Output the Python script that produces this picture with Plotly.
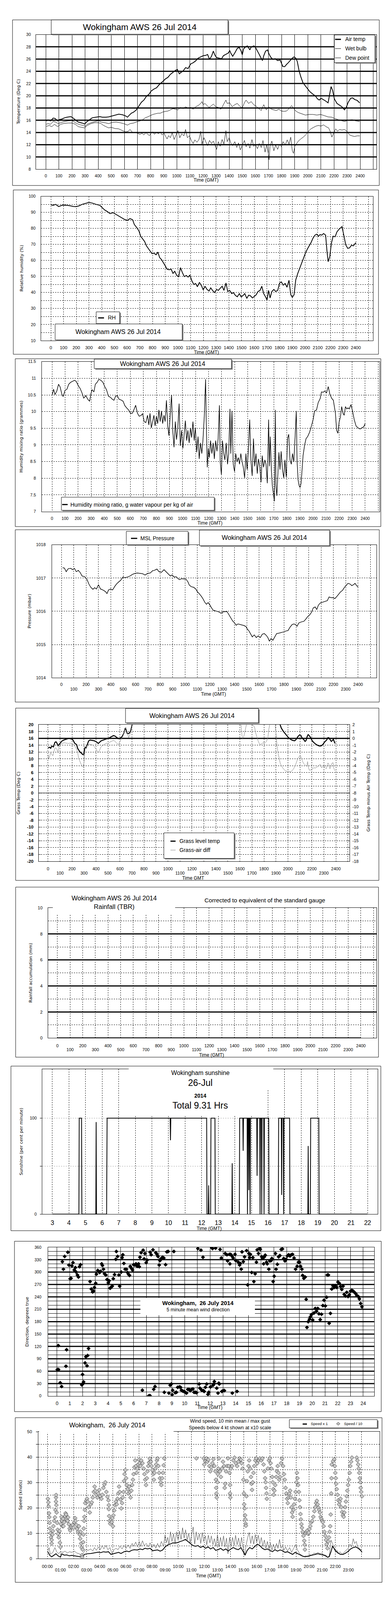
import plotly.graph_objects as go

# The reference is laid out on a 1000 x 5000 canvas; the visible photograph of the page is
# about 1000 x 4096, so the layout is mapped proportionally onto that visible area.
REF_W, REF_H = 1000, 5000
FW, FH = 984, 4072
SY = 4096 / REF_H
FS = 0.92
FONT = "Liberation Sans, Arial, sans-serif"
FONT2 = "DejaVu Sans, Verdana, sans-serif"

# ---------------- data (time in HHMM-style units 0..2400, or hours) ----------------
AIR_TEMP = [(4,15.9),(17,16.05),(37,15.9),(56,16.35),(71,16.3),(90,15.9),(104,16.1),(123,16.2),(143,16.4),(162,16.5),
 (191,16.6),(206,16.4),(229,16.0),(248,15.7),(277,15.55),(297,15.4),(316,15.8),(329,16.0),(354,16.4),(383,16.5),
 (412,16.6),(431,16.5),(460,16.5),(480,16.55),(499,16.65),(528,16.85),(557,17.0),(585,16.9),(610,16.7),(624,16.5),
 (634,16.75),(653,17.15),(672,17.35),(691,17.7),(707,18.2),(730,18.95),(749,19.3),(768,19.9),(788,20.25),(803,20.75),
 (826,21.1),(845,21.3),(865,21.8),(884,22.15),(899,22.45),(913,22.75),(932,23.0),(951,23.5),(971,23.85),(990,24.15),
 (1005,24.3),(1019,23.6),(1034,23.85),(1048,24.05),(1067,24.6),(1086,24.45),(1106,25.2),(1125,25.4),(1144,25.7),(1163,26.15),
 (1183,26.35),(1202,26.55),(1221,26.6),(1235,26.75),(1250,25.95),(1265,26.45),(1279,27.3),(1292,26.6),(1304,26.25),(1323,26.15),
 (1342,26.05),(1356,26.55),(1375,26.8),(1394,27.0),(1404,27.4),(1414,26.9),(1427,26.45),(1443,27.0),(1462,27.75),(1477,27.9),
 (1491,27.3),(1500,26.7),(1510,27.65),(1523,27.95),(1539,28.15),(1548,27.85),(1558,27.5),(1568,27.95),(1587,28.15),(1597,28.05),
 (1612,27.5),(1626,26.9),(1639,26.35),(1654,25.75),(1664,26.55),(1678,27.3),(1693,27.5),(1703,26.9),(1716,26.35),(1732,25.95),
 (1751,26.05),(1770,25.75),(1789,25.85),(1809,24.8),(1824,24.75),(1837,25.1),(1851,25.4),(1866,25.75),(1882,26.15),(1895,26.35),
 (1909,26.15),(1920,25.6),(1934,24.05),(1947,23.1),(1963,22.15),(1982,21.6),(1997,21.2),(2017,20.65),(2040,20.25),(2059,19.95),
 (2074,19.5),(2088,19.3),(2101,19.6),(2117,19.4),(2136,19.15),(2155,18.85),(2165,20.1),(2178,21.5),(2190,20.85),(2203,19.5),
 (2223,18.75),(2242,18.45),(2261,18.2),(2280,17.7),(2294,18.1),(2309,18.95),(2328,19.6),(2344,19.65),(2357,19.4),(2377,19.25),(2396,18.85)]

WET_BULB = [(4,15.35),(17,15.45),(37,15.35),(56,15.8),(75,15.7),(94,15.45),(114,15.6),(143,15.8),(171,15.9),(200,15.95),
 (219,15.7),(239,15.45),(264,15.25),(287,15.15),(302,15.0),(316,15.35),(345,15.6),(374,15.8),(403,15.95),(422,15.7),
 (451,15.6),(480,15.45),(508,15.65),(537,15.7),(566,15.6),(595,15.45),(624,15.2),(643,15.45),(672,15.55),(701,15.8),
 (720,15.9),(740,16.1),(759,16.4),(778,16.55),(797,16.75),(817,16.95),(836,17.05),(855,17.15),(874,17.15),(894,17.35),
 (913,17.45),(932,17.5),(951,17.7),(971,17.9),(990,17.8),(1009,17.7),(1028,18.1),(1048,17.9),(1067,18.2),(1086,18.0),
 (1106,18.1),(1125,17.8),(1144,18.2),(1163,18.4),(1183,18.75),(1192,19.05),(1202,18.55),(1215,18.75),(1231,18.4),(1246,18.1),
 (1260,18.3),(1279,18.65),(1298,18.2),(1317,18.1),(1337,17.8),(1356,18.55),(1375,19.3),(1385,18.75),(1404,18.85),(1423,18.2),
 (1443,18.55),(1462,18.75),(1481,18.3),(1500,18.0),(1516,18.85),(1529,19.3),(1548,18.75),(1568,19.05),(1587,18.55),(1606,18.3),
 (1626,17.9),(1645,17.6),(1664,18.55),(1683,17.7),(1703,18.2),(1722,17.8),(1741,17.7),(1760,17.6),(1780,17.8),(1799,17.5),
 (1818,17.45),(1837,17.5),(1857,17.9),(1876,18.4),(1891,18.0),(1909,17.5),(1928,17.25),(1953,17.05),(1982,16.85),(2011,16.95),
 (2040,16.95),(2069,16.85),(2098,16.95),(2127,16.75),(2155,16.55),(2184,16.5),(2203,16.3),(2232,16.1),(2261,15.9),(2280,15.8),
 (2309,16.0),(2338,16.1),(2367,15.9),(2396,15.8)]

DEW_POINT = [(4,15.0),(27,15.15),(46,14.95),(66,15.35),(90,14.95),(114,15.35),(143,15.5),(171,15.55),(200,15.55),(225,15.35),
 (248,14.95),(272,14.85),(297,14.75),(316,15.15),(345,15.45),(374,15.6),(403,15.6),(422,15.45),(441,15.15),(460,14.95),
 (480,14.75),(499,14.85),(528,14.65),(557,14.6),(585,14.3),(610,14.1),(630,14.2),(643,14.5),(662,14.0),(691,14.0),
 (707,13.8),(720,13.7),(734,13.9),(749,13.6),(765,14.0),(778,13.7),(792,13.5),(803,13.9),(817,14.1),(830,13.7),
 (845,14.0),(861,13.8),(874,14.1),(888,13.6),(903,13.9),(913,13.45),(926,12.95),(938,13.5),(951,13.15),(965,14.0),
 (980,12.85),(994,13.6),(1009,14.3),(1023,13.15),(1038,13.8),(1054,13.45),(1067,14.5),(1081,13.15),(1096,13.45),(1111,12.7),
 (1125,12.2),(1138,12.8),(1154,12.4),(1169,12.85),(1183,14.2),(1192,12.1),(1208,13.15),(1221,12.5),(1235,11.85),(1250,12.7),
 (1265,12.2),(1279,12.6),(1292,11.95),(1304,11.25),(1317,12.5),(1331,11.75),(1346,12.85),(1360,12.1),(1375,14.3),(1385,12.5),
 (1400,13.15),(1414,12.2),(1427,11.85),(1443,12.5),(1458,11.55),(1471,12.3),(1485,11.15),(1500,11.9),(1516,12.7),(1529,11.65),
 (1545,12.2),(1558,11.45),(1574,12.85),(1587,11.75),(1601,12.0),(1616,11.35),(1629,12.2),(1645,11.55),(1658,12.7),(1674,10.8),
 (1687,12.0),(1699,10.6),(1705,9.55),(1712,11.75),(1726,12.6),(1741,11.0),(1755,11.95),(1770,11.25),(1785,12.1),(1799,11.65),
 (1812,12.5),(1828,11.95),(1843,12.8),(1857,12.1),(1870,13.25),(1882,11.0),(1891,10.6),(1901,11.75),(1914,12.2),(1928,12.6),
 (1947,12.95),(1966,13.25),(1986,13.65),(2005,14.2),(2024,14.6),(2044,14.85),(2063,15.05),(2082,15.15),(2101,15.05),(2121,15.25),
 (2140,14.95),(2159,14.75),(2171,14.2),(2184,13.25),(2198,13.9),(2213,14.6),(2228,14.2),(2242,14.5),(2261,14.4),(2280,14.5),
 (2299,14.2),(2319,13.6),(2338,13.45),(2357,13.35),(2377,13.45),(2396,13.45)]

RH = [(0,94.7),(18,94.4),(38,95.0),(62,93.6),(87,94.4),(117,94.5),(147,94.2),(177,93.7),(197,93.6),(220,94.0),
 (246,95.0),(276,95.7),(300,96.2),(326,95.8),(355,95.0),(385,94.4),(405,93.0),(425,91.4),(445,90.5),(465,89.2),
 (490,89.8),(514,88.7),(538,87.4),(564,86.4),(584,85.4),(603,85.1),(623,86.1),(643,85.4),(657,82.4),(677,80.4),
 (693,78.4),(707,75.1),(723,73.5),(738,71.8),(752,69.1),(768,67.2),(782,65.8),(796,64.2),(812,64.5),(828,63.5),
 (842,65.2),(856,61.8),(871,60.5),(887,58.5),(901,56.5),(915,54.5),(931,54.2),(947,54.5),(961,51.9),(975,53.2),
 (991,50.6),(1006,49.9),(1020,55.5),(1034,52.6),(1050,49.9),(1066,50.6),(1080,49.6),(1094,50.9),(1110,47.2),(1126,44.9),
 (1139,45.6),(1153,43.6),(1169,46.3),(1185,44.3),(1199,41.6),(1213,43.9),(1229,41.9),(1245,40.9),(1258,42.9),(1272,41.3),
 (1288,39.9),(1304,41.9),(1318,41.3),(1332,42.6),(1348,43.9),(1362,41.3),(1378,45.9),(1392,40.6),(1407,41.3),(1423,39.3),
 (1437,39.9),(1451,38.3),(1467,37.3),(1483,39.3),(1497,37.3),(1511,38.0),(1526,39.3),(1542,36.3),(1556,38.3),(1570,38.0),
 (1586,36.6),(1602,37.6),(1616,38.6),(1630,40.6),(1646,41.3),(1660,43.9),(1675,39.3),(1689,37.3),(1701,35.3),(1713,41.3),
 (1725,36.6),(1739,40.6),(1755,41.9),(1769,40.6),(1785,41.3),(1800,45.9),(1814,46.6),(1828,44.6),(1844,45.6),(1858,43.3),
 (1874,47.6),(1888,38.6),(1900,37.0),(1914,38.6),(1927,47.9),(1943,51.9),(1959,55.2),(1973,58.2),(1987,61.2),(2003,64.5),
 (2019,67.2),(2033,69.1),(2047,71.1),(2062,73.8),(2078,75.8),(2092,76.4),(2106,75.1),(2118,76.1),(2132,75.8),(2146,76.8),
 (2162,75.8),(2172,66.5),(2182,59.2),(2195,62.5),(2207,70.5),(2221,75.1),(2237,74.8),(2251,77.8),(2267,79.4),(2281,80.4),
 (2291,81.1),(2305,75.8),(2320,69.8),(2336,67.5),(2350,67.8),(2366,69.5),(2380,69.1),(2400,71.1)]

MIXING = [(0,10.48),(12,10.67),(23,10.51),(37,10.62),(50,10.82),(62,10.74),(75,10.53),(85,10.45),(100,10.64),(114,10.67),
 (128,10.82),(143,10.88),(158,10.91),(172,10.94),(185,10.91),(201,10.78),(216,10.69),(230,10.56),(243,10.40),(259,10.48),
 (274,10.37),(288,10.31),(298,10.53),(307,10.66),(321,10.59),(332,10.82),(346,10.88),(359,10.97),(375,10.94),(390,10.88),
 (404,10.75),(417,10.66),(433,10.46),(448,10.43),(462,10.37),(475,10.34),(487,10.46),(500,10.48),(514,10.37),(529,10.35),
 (545,10.31),(558,10.18),(572,10.11),(587,10.05),(603,9.94),(616,9.95),(630,10.08),(641,10.19),(655,9.95),(668,9.86),
 (684,9.89),(694,9.94),(707,9.70),(719,9.67),(732,9.89),(742,9.60),(751,9.95),(761,9.51),(771,9.70),(781,9.89),
 (790,9.57),(800,9.86),(810,9.64),(819,10.05),(829,9.70),(839,10.02),(848,9.64),(858,9.89),(867,9.70),(877,10.34),
 (887,9.57),(896,9.28),(906,9.89),(916,10.50),(925,9.44),(935,8.93),(945,9.70),(954,9.16),(964,9.51),(974,10.24),
 (983,8.97),(993,9.44),(1003,8.90),(1012,9.32),(1022,9.73),(1032,9.13),(1041,9.44),(1051,9.06),(1061,9.51),(1070,9.22),
 (1080,9.70),(1090,9.13),(1099,9.51),(1109,8.78),(1119,9.25),(1128,8.58),(1138,9.06),(1148,8.74),(1157,9.16),(1167,9.86),
 (1177,10.97),(1182,9.70),(1190,8.33),(1198,8.90),(1206,8.62),(1215,9.13),(1225,8.74),(1235,9.06),(1244,8.58),(1254,9.13),
 (1264,8.81),(1273,9.19),(1283,10.19),(1289,8.49),(1298,8.11),(1306,9.13),(1316,8.74),(1325,8.55),(1335,9.06),(1345,8.42),
 (1354,8.74),(1364,10.08),(1370,8.74),(1379,10.02),(1389,8.42),(1399,8.20),(1408,8.74),(1418,8.49),(1428,8.62),(1437,8.42),
 (1447,8.74),(1457,8.49),(1466,8.33),(1476,8.01),(1486,8.74),(1495,8.26),(1505,8.87),(1515,9.76),(1524,8.55),(1534,8.07),
 (1544,9.19),(1553,8.36),(1563,8.74),(1573,8.14),(1582,8.58),(1592,8.36),(1602,7.88),(1611,8.68),(1621,8.33),(1631,8.55),
 (1640,8.42),(1650,7.85),(1660,9.76),(1666,8.36),(1673,9.25),(1681,8.26),(1689,7.75),(1697,7.53),(1704,7.31),(1712,10.05),
 (1716,7.79),(1723,7.47),(1731,8.11),(1739,8.78),(1747,8.26),(1756,8.81),(1766,8.26),(1776,8.01),(1785,8.55),(1795,8.04),
 (1805,9.19),(1814,9.32),(1824,8.55),(1834,8.42),(1843,8.74),(1853,8.49),(1863,9.25),(1872,10.02),(1878,8.52),(1886,7.95),
 (1893,7.79),(1901,7.72),(1909,7.85),(1917,8.26),(1924,8.68),(1936,9.00),(1947,9.19),(1959,9.25),(1974,9.38),(1988,9.57),
 (2001,9.76),(2013,10.02),(2027,10.05),(2040,10.27),(2056,10.40),(2065,10.59),(2079,10.58),(2090,10.62),(2104,10.56),(2117,10.75),
 (2129,10.53),(2143,10.40),(2156,10.34),(2172,9.95),(2181,9.44),(2191,9.35),(2201,9.70),(2210,9.83),(2220,10.15),(2230,9.95),
 (2239,9.89),(2249,10.15),(2259,10.08),(2268,10.11),(2278,10.08),(2291,10.21),(2303,10.02),(2316,9.76),(2330,9.57),(2345,9.51),
 (2361,9.48),(2374,9.51),(2388,9.54),(2400,9.64)]

PRESSURE = [(10,1017.31),(24,1017.30),(39,1017.19),(55,1017.28),(75,1017.29),(92,1017.25),(106,1017.29),(120,1017.19),(137,1017.23),(153,1017.16),
 (167,1017.06),(188,1017.04),(208,1016.95),(222,1016.82),(238,1016.72),(255,1016.66),(269,1016.71),(283,1016.67),(300,1016.80),(316,1016.67),
 (336,1016.64),(357,1016.59),(369,1016.53),(381,1016.64),(398,1016.67),(414,1016.64),(432,1016.75),(446,1016.82),(463,1016.88),(479,1016.93),
 (498,1017.03),(514,1017.01),(534,1017.03),(555,1017.06),(575,1017.11),(596,1017.14),(616,1017.15),(636,1017.14),(657,1017.13),(677,1017.09),
 (697,1017.14),(718,1017.15),(738,1017.22),(752,1017.23),(773,1017.27),(789,1017.19),(809,1017.17),(830,1017.25),(846,1017.19),(865,1017.11),
 (881,1017.06),(895,1017.09),(912,1017.03),(928,1017.04),(944,1016.98),(956,1016.95),(973,1016.98),(993,1016.97),(1009,1016.96),(1024,1016.88),
 (1034,1016.79),(1050,1016.74),(1070,1016.72),(1087,1016.67),(1099,1016.59),(1115,1016.53),(1132,1016.45),(1146,1016.37),(1160,1016.27),(1173,1016.21),
 (1187,1016.26),(1201,1016.19),(1213,1016.11),(1228,1016.03),(1242,1016.02),(1258,1016.00),(1274,1015.98),(1291,1015.94),(1307,1015.98),(1324,1015.99),
 (1340,1015.99),(1356,1015.89),(1370,1015.79),(1385,1015.71),(1401,1015.65),(1413,1015.58),(1429,1015.62),(1446,1015.60),(1462,1015.58),(1478,1015.57),
 (1493,1015.54),(1503,1015.47),(1517,1015.41),(1532,1015.31),(1544,1015.23),(1560,1015.29),(1576,1015.21),(1592,1015.26),(1609,1015.21),(1625,1015.31),
 (1641,1015.33),(1656,1015.28),(1670,1015.21),(1682,1015.10),(1696,1015.18),(1711,1015.13),(1727,1015.23),(1741,1015.33),(1758,1015.34),(1778,1015.36),
 (1798,1015.38),(1819,1015.41),(1833,1015.42),(1849,1015.52),(1866,1015.60),(1880,1015.62),(1894,1015.60),(1906,1015.55),(1921,1015.65),(1941,1015.68),
 (1962,1015.70),(1976,1015.76),(1992,1015.84),(2008,1015.89),(2023,1015.97),(2037,1016.10),(2053,1016.13),(2066,1016.05),(2078,1016.18),(2094,1016.25),
 (2111,1016.27),(2131,1016.29),(2151,1016.32),(2165,1016.43),(2180,1016.41),(2196,1016.41),(2212,1016.38),(2229,1016.45),(2241,1016.50),(2257,1016.58),
 (2274,1016.63),(2290,1016.72),(2302,1016.77),(2318,1016.84),(2335,1016.82),(2349,1016.77),(2363,1016.80),(2375,1016.84),(2388,1016.77),(2400,1016.73)]

# grass temperature (left axis, deg C); values above 20 run off the top of the chart
GRASS_TEMP = [(0,13.2),(14,13.4),(22,13.1),(31,13.75),(45,13.5),(57,14.8),(66,15.0),(74,14.6),(83,13.85),(91,14.15),
 (100,14.6),(117,15.25),(134,15.55),(152,15.8),(169,15.95),(186,15.9),(203,15.7),(212,15.25),(221,14.6),(238,14.15),
 (247,13.05),(264,12.1),(281,11.5),(290,11.25),(298,11.35),(303,12.75),(310,13.4),(317,13.2),(324,13.85),(338,15.25),
 (350,15.5),(367,15.4),(384,15.3),(402,15.0),(419,14.5),(428,14.8),(441,15.25),(453,15.4),(471,15.6),(488,15.8),
 (500,16.0),(514,16.2),(531,16.55),(545,16.8),(557,16.7),(574,16.2),(586,15.9),(600,16.0),(617,16.5),(631,17.45),
 (643,19.0),(652,18.4),(660,17.45),(672,17.4),(683,17.75),(690,18.4),(697,19.6),(703,20.25),(760,24),(1000,30),
 (1400,32),(1800,28),(1920,21.5),(1936,20.0),(1945,19.0),(1962,18.05),(1979,17.3),(1997,16.5),(2005,16.2),(2022,15.7),
 (2040,15.4),(2057,15.3),(2069,15.7),(2083,16.5),(2097,17.0),(2109,16.8),(2117,16.2),(2134,15.55),(2143,15.1),(2152,15.4),
 (2160,16.5),(2169,17.1),(2178,16.8),(2190,16.2),(2203,15.25),(2221,14.6),(2238,14.15),(2255,13.85),(2269,13.75),(2281,13.85),
 (2293,14.3),(2307,14.95),(2324,15.55),(2333,16.2),(2341,16.2),(2350,15.7),(2362,15.1),(2371,15.4),(2379,15.7),(2386,15.1),(2393,14.5)]

# grass minus air temperature (right axis, deg C); values above 2 run off the top
GRASS_DIFF = [(0,-2.4),(7,-2.95),(14,-2.55),(22,-2.1),(31,-2.35),(40,-2.55),(48,-1.95),(57,-1.45),(66,-1.4),(74,-1.6),
 (83,-2.15),(91,-1.15),(100,-0.9),(117,-0.75),(134,-0.65),(152,-0.7),(169,-0.75),(186,-0.7),(203,-0.85),(212,-0.9),
 (221,-1.1),(238,-1.55),(247,-2.1),(255,-2.9),(272,-3.65),(286,-4.1),(293,-4.2),(300,-3.5),(303,-2.7),(310,-1.45),
 (321,-1.25),(333,-0.9),(345,-0.85),(359,-0.9),(376,-1.0),(393,-1.4),(410,-1.8),(419,-2.1),(428,-1.8),(441,-1.25),
 (453,-1.1),(471,-0.85),(488,-0.7),(500,-0.8),(514,-0.55),(531,-0.4),(545,-0.3),(557,-0.4),(574,-0.75),(586,-0.9),
 (600,-0.45),(614,-0.05),(626,0.4),(638,1.2),(648,1.65),(655,1.2),(666,0.4),(672,0.1),(683,0.55),(695,1.35),
 (703,1.95),(760,4),(1100,6),(1500,4),(1595,2.6),(1609,2.0),(1617,0.4),(1622,0.0),(1631,0.2),(1638,0.7),
 (1648,1.65),(1655,2.1),(1680,2.8),(1700,2.0),(1707,1.9),(1717,1.8),(1724,1.5),(1729,0.9),(1741,0.25),(1752,-0.4),
 (1764,-0.85),(1772,-0.9),(1786,-0.75),(1798,-0.6),(1810,-0.65),(1821,-0.45),(1833,0.1),(1841,1.35),(1850,2.1),(1870,3.0),
 (1893,2.1),(1902,0.4),(1910,-1.15),(1919,-2.25),(1928,-3.05),(1936,-3.65),(1948,-4.1),(1962,-4.45),(1979,-4.75),(1997,-4.9),
 (2010,-4.85),(2022,-4.9),(2034,-4.75),(2048,-4.45),(2062,-3.95),(2074,-3.35),(2086,-2.8),(2100,-2.65),(2109,-2.7),(2121,-3.35),
 (2134,-3.75),(2147,-3.95),(2157,-4.1),(2164,-3.4),(2169,-4.1),(2178,-4.65),(2190,-4.65),(2203,-4.45),(2217,-4.3),(2229,-4.35),
 (2241,-4.2),(2255,-4.05),(2269,-3.8),(2279,-4.3),(2290,-4.2),(2303,-3.95),(2310,-4.3),(2321,-4.45),(2328,-3.95),(2334,-3.6),
 (2341,-3.8),(2350,-4.45),(2359,-4.1),(2367,-3.65),(2376,-3.55),(2384,-4.45),(2393,-4.75)]

RAIN_TIME = [0, 2400]
RAIN_MM = [0, 0]

SUNSHINE = [(3.0,0),(4.60,0),(4.62,100),(4.76,100),(4.78,0),(5.62,0),(5.64,96),(5.66,0),(6.27,0),(6.30,100),
 (10.10,100),(10.12,77),(10.14,100),(12.30,100),(12.32,0),(12.40,0),(12.42,30),(12.44,0),(12.54,0),(12.56,100),
 (12.80,100),(12.82,0),(13.82,0),(13.84,53),(13.86,0),(14.27,0),(14.29,100),(14.48,100),(14.50,66),(14.52,100),
 (14.74,100),(14.76,0),(14.78,100),(14.82,100),(14.84,25),(14.86,100),(14.90,100),(14.92,0),(14.94,100),(15.32,100),
 (15.34,40),(15.36,100),(15.50,100),(15.52,0),(15.54,100),(15.60,100),(15.62,0),(15.64,100),(15.74,100),(15.76,0),
 (15.78,100),(16.04,100),(16.06,0),(16.62,0),(16.64,100),(16.80,100),(16.82,20),(16.84,100),(16.92,100),(16.94,0),
 (16.96,100),(17.30,100),(17.32,0),(18.40,0),(18.42,71),(18.44,0),(18.55,0),(18.57,100),(19.06,100),(19.08,0),(22.0,0)]

WIND_DIR = [(0.02,64),(0.1,122),(0.12,64),(0.25,32),(0.36,23),(0.42,325),(0.5,307),(0.6,338),(0.7,72),(0.75,112),
 (0.85,348),(0.93,317),(1.03,284),(1.1,285),(1.17,315),(1.25,323),(1.35,305),(1.44,311),(1.5,300),(1.6,293),
 (1.68,288),(1.76,313),(1.84,318),(1.94,27),(2.0,52),(2.04,30),(2.08,34),(2.2,80),(2.26,95),(2.35,73),
 (2.4,98),(2.47,115),(2.59,277),(2.69,259),(2.79,252),(2.87,254),(2.93,263),(3.03,273),(3.09,295),(3.19,304),
 (3.26,302),(3.34,299),(3.42,302),(3.5,320),(3.56,316),(3.64,307),(3.72,296),(3.82,293),(3.92,282),(4.02,274),
 (4.08,279),(4.16,261),(4.23,263),(4.33,266),(4.41,284),(4.51,294),(4.61,331),(4.65,350),(4.75,338),(4.85,293),
 (4.91,266),(5.03,300),(5.1,335),(5.16,342),(5.24,321),(5.34,307),(5.44,307),(5.53,299),(5.6,295),(5.68,292),
 (5.74,314),(5.84,309),(5.92,305),(6.0,318),(6.09,317),(6.19,320),(6.29,314),(6.39,320),(6.45,313),(6.5,336),
 (6.59,347),(6.69,14),(6.75,353),(6.83,332),(6.89,345),(6.99,323),(7.06,329),(7.18,0),(7.28,1),(7.3,348),
 (7.38,342),(7.52,354),(7.58,16),(7.68,23),(7.74,347),(7.81,344),(7.91,338),(8.01,317),(8.07,328),(8.17,333),
 (8.27,336),(8.37,334),(8.41,9),(8.51,318),(8.61,349),(8.71,350),(8.77,7),(8.87,26),(8.96,29),(9.02,3),
 (9.06,14),(9.16,350),(9.26,8),(9.36,9),(9.46,21),(9.6,22),(9.68,21),(9.75,14),(9.85,12),(9.95,11),
 (10.05,9),(10.15,7),(10.25,16),(10.35,16),(10.45,13),(10.55,16),(10.65,17),(10.74,9),(10.84,9),(10.94,8),
 (11.04,357),(11.14,29),(11.2,19),(11.28,353),(11.34,14),(11.44,336),(11.48,13),(11.53,11),(11.63,21),(11.73,29),
 (11.83,4),(11.89,9),(12.03,22),(12.13,359),(12.19,357),(12.23,26),(12.29,29),(12.33,35),(12.43,358),(12.52,19),
 (12.62,7),(12.68,31),(12.72,29),(12.78,355),(12.88,334),(12.92,11),(13.02,13),(13.12,13),(13.18,345),(13.32,342),
 (13.37,327),(13.51,343),(13.55,320),(13.61,343),(13.71,339),(13.74,7),(13.81,334),(13.95,343),(14.01,328),(14.11,11),
 (14.21,324),(14.31,317),(14.36,321),(14.44,307),(14.5,349),(14.6,325),(14.7,337),(14.86,352),(14.94,269),(15.04,345),
 (15.1,335),(15.16,343),(15.26,299),(15.35,335),(15.43,277),(15.53,296),(15.63,324),(15.69,354),(15.79,345),(15.89,358),
 (15.93,355),(16.05,337),(16.11,333),(16.19,320),(16.25,337),(16.32,341),(16.42,324),(16.48,320),(16.6,307),(16.68,327),
 (16.78,328),(16.84,333),(16.94,277),(17.02,290),(17.12,345),(17.17,307),(17.27,319),(17.37,337),(17.47,340),(17.57,355),
 (17.67,356),(17.77,333),(17.87,327),(17.96,331),(18.06,339),(18.16,342),(18.26,339),(18.36,342),(18.46,343),(18.58,334),
 (18.7,307),(18.82,314),(18.92,324),(19.01,324),(19.09,314),(19.19,307),(19.25,292),(19.35,285),(19.45,288),(19.53,234),
 (19.59,166),(19.69,180),(19.79,186),(19.85,191),(19.94,197),(20.04,184),(20.14,201),(20.24,212),(20.34,205),(20.44,212),
 (20.53,199),(20.63,185),(20.73,198),(20.84,219),(20.93,232),(21.03,218),(21.13,239),(21.19,293),(21.27,293),(21.33,176),
 (21.43,200),(21.53,259),(21.63,267),(21.73,263),(21.82,267),(21.92,263),(22.02,276),(22.12,273),(22.22,265),(22.32,258),
 (22.42,266),(22.51,246),(22.61,242),(22.71,251),(22.81,241),(22.91,245),(23.01,254),(23.11,256),(23.21,254),(23.31,251),
 (23.41,248),(23.51,243),(23.61,241),(23.7,235),(23.8,224),(23.9,216)]

WIND_MEAN = [(0.04,2.75),(0.17,1.4),(0.33,0.75),(0.52,1.4),(0.66,1.95),(0.81,1.15),(1.0,0.6),(1.1,1.95),(1.29,1.4),(1.48,1.5),
 (1.68,1.15),(1.87,1.3),(2.06,1.15),(2.26,1.0),(2.5,0.75),(2.7,0.6),(2.83,1.7),(3.03,1.95),(3.32,2.05),(3.6,2.3),
 (3.89,2.6),(4.09,2.4),(4.28,2.75),(4.47,2.6),(4.67,2.75),(4.86,1.7),(5.05,1.95),(5.24,2.2),(5.44,2.5),(5.63,2.05),
 (5.86,2.75),(6.05,3.0),(6.25,2.75),(6.44,3.3),(6.63,3.55),(6.88,3.45),(7.08,3.85),(7.27,3.55),(7.46,4.1),(7.65,3.85),
 (7.85,4.1),(8.04,3.15),(8.23,3.3),(8.42,3.45),(8.62,3.0),(8.81,3.45),(9.0,4.65),(9.2,5.45),(9.39,5.75),(9.58,6.25),
 (9.77,6.15),(9.97,6.4),(10.16,6.8),(10.35,7.1),(10.55,7.6),(10.74,6.8),(10.93,6.0),(11.12,5.2),(11.32,4.9),(11.51,5.2),
 (11.7,4.4),(11.9,4.9),(12.09,4.1),(12.28,4.65),(12.47,3.85),(12.67,4.4),(12.86,3.3),(13.05,3.55),(13.24,4.1),(13.44,3.3),
 (13.63,3.85),(13.82,3.0),(14.02,3.85),(14.21,4.4),(14.4,3.85),(14.59,3.55),(14.79,4.4),(14.98,2.75),(15.11,1.4),(15.27,3.3),
 (15.46,4.4),(15.65,3.85),(15.85,4.9),(16.04,5.75),(16.23,5.2),(16.43,4.1),(16.62,3.55),(16.81,3.85),(17.0,3.3),(17.2,2.75),
 (17.39,3.55),(17.58,3.0),(17.78,3.45),(17.97,3.15),(18.16,2.5),(18.35,2.75),(18.55,2.2),(18.74,1.7),(18.93,2.5),(19.13,1.95),
 (19.32,1.4),(19.51,1.0),(19.7,0.75),(19.9,1.0),(20.09,1.15),(20.28,1.4),(20.47,1.7),(20.67,1.95),(20.86,1.7),(21.05,1.5),
 (21.25,1.15),(21.4,0.6),(21.53,0.75),(21.67,2.75),(21.79,4.9),(21.92,3.85),(22.05,3.0),(22.21,2.2),(22.4,1.7),(22.6,1.7),
 (22.79,2.2),(22.98,2.9),(23.17,3.85),(23.37,4.4),(23.56,4.65),(23.75,4.1),(23.94,3.3),(24.04,2.5)]

WIND_GUST = [(0.04,3.0),(0.13,4.4),(0.23,1.7),(0.42,2.5),(0.58,4.4),(0.71,2.75),(0.85,1.95),(1.0,2.75),(1.2,2.5),(1.35,3.0),
 (1.54,2.2),(1.68,2.75),(1.87,2.5),(2.06,3.0),(2.26,2.2),(2.45,1.95),(2.64,1.15),(2.78,2.5),(2.93,3.55),(3.12,3.3),
 (3.32,3.85),(3.47,3.0),(3.6,4.4),(3.74,3.3),(3.89,4.65),(4.05,3.55),(4.18,5.2),(4.32,3.85),(4.47,5.2),(4.63,3.55),
 (4.78,4.4),(4.95,1.95),(5.09,3.55),(5.24,4.1),(5.4,3.55),(5.55,4.9),(5.71,3.85),(5.86,5.2),(6.02,4.1),(6.17,5.45),
 (6.32,4.1),(6.48,6.0),(6.59,4.9),(6.75,6.55),(6.88,4.65),(7.02,6.8),(7.13,4.9),(7.27,7.1),(7.4,5.2),(7.56,6.0),
 (7.71,4.65),(7.85,6.25),(7.98,4.4),(8.14,5.75),(8.29,4.1),(8.42,6.0),(8.56,4.4),(8.71,6.8),(8.87,4.9),(9.0,9.5),
 (9.1,6.25),(9.2,8.4),(9.29,5.45),(9.41,10.6),(9.52,6.8),(9.64,9.8),(9.76,6.0),(9.87,10.6),(9.99,7.35),(10.1,10.9),
 (10.22,7.6),(10.33,12.2),(10.45,8.15),(10.56,11.4),(10.68,7.35),(10.8,10.05),(10.91,6.25),(11.03,9.5),(11.14,12.5),(11.26,5.75),
 (11.37,10.6),(11.49,7.35),(11.61,9.8),(11.72,6.0),(11.84,10.3),(11.95,6.8),(12.07,9.0),(12.18,5.45),(12.3,9.25),(12.42,6.25),
 (12.53,9.0),(12.65,5.45),(12.76,7.9),(12.88,4.9),(13.0,9.5),(13.11,4.65),(13.23,8.4),(13.34,5.2),(13.46,9.0),(13.57,4.65),
 (13.69,8.15),(13.8,1.95),(13.92,8.4),(14.03,4.9),(14.15,8.4),(14.27,5.2),(14.38,9.25),(14.5,5.45),(14.61,8.15),(14.73,4.65),
 (14.84,8.4),(14.96,4.1),(15.08,1.4),(15.19,5.45),(15.31,8.4),(15.42,10.3),(15.54,6.0),(15.65,9.0),(15.77,5.75),(15.89,9.5),
 (16.0,6.55),(16.12,9.25),(16.23,5.75),(16.35,8.4),(16.46,4.9),(16.58,7.35),(16.7,4.1),(16.81,6.8),(16.93,3.85),(17.04,6.25),
 (17.16,3.3),(17.27,5.75),(17.39,3.85),(17.51,6.0),(17.62,4.1),(17.74,7.6),(17.85,4.1),(17.97,5.2),(18.08,3.3),(18.2,4.65),
 (18.35,3.0),(18.51,4.4),(18.66,2.5),(18.82,4.1),(18.97,5.45),(19.13,3.3),(19.28,1.95),(19.43,1.4),(19.59,0.75),(19.74,1.15),
 (19.9,0.75),(20.05,1.5),(20.2,1.4),(20.36,2.2),(20.51,1.95),(20.67,2.5),(20.82,1.95),(20.97,2.2),(21.13,1.5),(21.28,1.4),
 (21.44,0.45),(21.55,1.4),(21.67,7.35),(21.79,6.0),(21.9,4.1),(22.02,2.5),(22.13,3.3),(22.25,2.05),(22.36,2.75),(22.52,1.7),
 (22.67,2.5),(22.83,3.3),(22.98,4.1),(23.13,5.75),(23.25,4.65),(23.37,7.9),(23.48,6.0),(23.6,6.8),(23.71,4.65),(23.83,4.1),
 (23.94,3.55),(24.04,2.5)]

WIND_X10 = [(0.04,23.6),(0.08,22.2),(0.1,20.6),(0.13,17.9),(0.15,16.4),(0.17,14.1),(0.19,11.9),(0.23,10.1),(0.27,8.4),(0.33,7.4),
 (0.33,6.0),(0.39,9.5),(0.42,10.9),(0.46,12.8),(0.52,14.9),(0.58,16.3),(0.62,19.2),(0.66,22.5),(0.66,24.1),(0.67,25.1),
 (0.69,21.1),(0.71,18.2),(0.75,14.1),(0.79,11.4),(0.81,9.8),(0.87,8.4),(0.93,10.9),(0.96,6.3),(1.0,4.6),(1.04,13.6),
 (1.08,16.5),(1.12,14.9),(1.16,12.8),(1.2,15.7),(1.23,12.8),(1.29,14.4),(1.35,16.8),(1.39,17.9),(1.43,17.4),(1.48,15.5),
 (1.54,14.9),(1.58,16.3),(1.64,13.6),(1.7,11.9),(1.75,11.1),(1.81,12.8),(1.87,12.3),(1.93,13.3),(2.0,12.2),(2.06,14.4),
 (2.12,16.0),(2.16,14.9),(2.22,13.3),(2.27,11.7),(2.35,10.6),(2.41,12.8),(2.47,9.5),(2.51,7.9),(2.54,10.6),(2.58,6.0),
 (2.62,4.4),(2.64,1.4),(2.66,0.6),(2.7,3.6),(2.74,6.5),(2.76,9.5),(2.78,11.9),(2.81,14.9),(2.83,16.5),(2.87,19.2),
 (2.89,21.9),(2.97,22.8),(3.03,23.6),(3.08,22.5),(3.16,20.3),(3.24,18.2),(3.32,21.4),(3.39,22.2),(3.47,24.1),(3.55,26.3),
 (3.61,28.4),(3.66,26.8),(3.74,25.2),(3.82,24.1),(3.89,25.7),(3.97,27.1),(4.05,24.6),(4.13,23.6),(4.2,25.2),(4.28,27.9),
 (4.36,29.2),(4.43,30.1),(4.51,26.3),(4.59,24.4),(4.67,23.0),(4.7,21.1),(4.7,19.5),(4.72,16.8),(4.76,14.9),(4.8,13.8),
 (4.86,15.5),(4.92,14.4),(4.97,16.0),(5.01,12.8),(5.05,17.1),(5.11,19.0),(5.17,21.1),(5.24,22.5),(5.3,21.4),(5.36,23.6),
 (5.42,25.7),(5.48,28.4),(5.53,26.3),(5.59,23.3),(5.65,19.8),(5.71,21.9),(5.76,24.1),(5.82,26.3),(5.86,30.6),(5.9,33.3),
 (5.96,34.9),(6.02,31.7),(6.07,29.0),(6.13,27.4),(6.19,25.7),(6.25,28.4),(6.3,26.3),(6.36,24.1),(6.42,26.8),(6.48,29.0),
 (6.54,31.1),(6.59,33.3),(6.65,36.0),(6.71,38.7),(6.77,36.5),(6.82,33.8),(6.88,35.5),(6.94,37.1),(7.0,39.0),(7.06,37.6),
 (7.11,36.5),(7.17,38.7),(7.27,37.6),(7.36,35.5),(7.42,33.3),(7.48,31.1),(7.54,29.0),(7.6,31.7),(7.65,34.4),(7.71,36.5),
 (7.77,37.9),(7.83,39.4),(7.9,38.2),(7.96,36.5),(8.02,34.9),(8.08,33.3),(8.14,31.1),(8.19,33.8),(8.25,35.5),(8.31,37.1),
 (8.37,38.7),(8.42,39.5),(8.48,36.5),(8.54,33.8),(8.6,31.7),(8.66,30.1),(8.71,29.0),(8.77,31.7),(8.83,33.8),(8.89,36.8),
 (8.93,39.5),(11.39,39.5),(11.95,39.5),(11.99,37.1),(12.07,38.4),(12.15,39.5),(12.22,38.2),(12.3,39.0),(12.38,36.5),(12.45,34.4),
 (12.53,36.0),(12.61,37.6),(12.69,39.2),(12.76,36.5),(12.84,34.4),(12.88,31.1),(12.9,27.9),(12.92,25.7),(12.94,24.1),(13.0,30.1),
 (13.03,33.3),(13.07,35.5),(13.11,39.5),(13.19,34.4),(13.26,32.2),(13.34,35.5),(13.42,38.2),(13.5,36.5),(13.55,27.9),(13.59,29.5),
 (13.65,34.4),(13.73,36.5),(13.8,39.5),(13.86,36.5),(13.92,33.8),(13.96,29.0),(13.96,25.7),(13.98,24.1),(14.03,35.5),(14.11,36.5),
 (14.21,38.7),(14.3,39.8),(14.4,37.6),(14.5,36.5),(14.59,38.2),(14.69,39.5),(14.79,39.0),(14.84,37.6),(14.92,35.5),(14.98,31.1),
 (15.02,25.7),(15.04,21.4),(15.08,19.8),(15.11,17.1),(15.13,15.5),(15.15,13.8),(15.17,13.0),(15.21,24.6),(15.25,30.6),(15.31,34.4),
 (15.37,36.5),(15.42,38.7),(15.5,35.5),(15.56,32.2),(15.6,29.5),(15.64,27.1),(15.69,30.1),(15.75,33.8),(15.81,36.5),(15.89,38.7),
 (15.96,39.5),(16.04,37.6),(16.14,38.7),(16.23,39.5),(16.35,38.7),(16.43,39.5),(16.52,37.1),(16.58,34.4),(16.64,31.7),(16.68,30.1),
 (16.71,27.9),(16.75,25.7),(16.77,23.6),(16.85,35.5),(16.93,38.7),(17.0,39.5),(17.06,37.6),(17.12,35.5),(17.18,32.2),(17.22,30.1),
 (17.26,27.4),(17.29,25.2),(17.35,26.8),(17.41,29.0),(17.49,32.2),(17.54,34.4),(17.6,36.5),(17.66,33.8),(17.72,31.1),(17.78,32.2),
 (17.85,37.6),(17.93,39.4),(18.01,36.5),(18.08,33.3),(18.14,31.1),(18.2,27.9),(18.26,25.7),(18.32,23.6),(18.37,21.9),(18.43,24.1),
 (18.49,25.7),(18.55,26.8),(18.6,24.1),(18.66,20.3),(18.7,18.2),(18.74,16.5),(18.8,19.2),(18.85,21.4),(18.91,23.6),(18.97,26.3),
 (19.03,30.1),(19.07,33.8),(19.11,31.7),(19.16,29.0),(19.22,26.3),(19.26,23.0),(19.3,20.3),(19.34,17.6),(19.37,15.5),(19.41,13.6),
 (19.45,12.2),(19.51,10.6),(19.57,9.0),(19.63,7.1),(19.66,5.5),(19.68,3.6),(19.74,10.1),(19.8,10.6),(19.86,11.1),(19.92,9.8),
 (19.97,10.3),(20.03,11.7),(20.09,12.8),(20.17,14.4),(20.24,14.9),(20.32,16.5),(20.4,18.7),(20.47,20.3),(20.53,21.9),(20.59,22.8),
 (20.65,21.4),(20.71,20.1),(20.76,19.2),(20.82,18.2),(20.88,16.5),(20.94,15.7),(21.0,14.9),(21.05,14.4),(21.11,12.8),(21.17,10.6),
 (21.23,9.0),(21.29,7.4),(21.34,5.7),(21.4,4.1),(21.46,6.8),(21.52,8.4),(21.57,10.6),(21.61,12.8),(21.65,17.4),(21.69,25.7),
 (21.71,31.7),(21.73,37.1),(21.83,38.4),(21.92,39.2),(21.96,36.5),(22.0,33.8),(22.04,31.7),(22.07,29.5),(22.11,27.4),(22.17,25.2),
 (22.23,23.0),(22.29,21.4),(22.34,22.5),(22.4,23.6),(22.46,20.3),(22.52,18.4),(22.58,17.1),(22.64,16.5),(22.69,18.2),(22.75,20.3),
 (22.81,22.5),(22.87,24.6),(22.92,26.8),(22.98,29.0),(23.04,31.1),(23.1,33.8),(23.15,36.5),(23.21,38.2),(23.27,39.8),(23.64,39.8),
 (23.69,38.7),(23.75,37.1),(23.79,35.5),(23.83,33.8),(23.87,31.7),(23.91,30.1),(23.94,27.9),(23.98,26.3),(24.04,24.6)]

HHMM_TICKS = list(range(0, 2600, 100))
HOUR_TICKS = list(range(0, 25))
SUN_HOURS = list(range(3, 23))

# ---------------- helpers (positions given in reference pixels) ----------------
def X(px):
    return (px - 8) / FW

def Y(py):
    return 1 - (py * SY - 8) / FH

def unzip(pairs):
    return [p[0] for p in pairs], [p[1] for p in pairs]

shapes, annotations = [], []

def rect(x0, y0, x1, y1, fill='white', line='black', lw=1, layer='above'):
    shapes.append(dict(type='rect', xref='paper', yref='paper', x0=X(x0), x1=X(x1), y0=Y(y1), y1=Y(y0),
                       fillcolor=fill, line=dict(color=line, width=lw), layer=layer))

def box(x0, y0, x1, y1, shadow=True):
    if shadow:
        rect(x0 + 3, y0 + 3, x1 + 3, y1 + 3, fill='#808080', line='#808080', lw=0)
    rect(x0, y0, x1, y1)

def white(x0, y0, x1, y1):
    rect(x0, y0, x1, y1, fill='white', line='white', lw=0)

def frame(x0, y0, x1, y1):
    shapes.append(dict(type='rect', xref='paper', yref='paper', x0=X(x0), x1=X(x1), y0=Y(y1), y1=Y(y0),
                       fillcolor='rgba(0,0,0,0)', line=dict(color='black', width=1), layer='below'))

def seg(x0, x1, y, color='black', width=1):
    shapes.append(dict(type='line', xref='paper', yref='paper', x0=X(x0), x1=X(x1), y0=Y(y), y1=Y(y),
                       line=dict(color=color, width=width), layer='above'))

def text(x, y, s, size, xanchor='center', angle=0, family=FONT, weight='normal'):
    annotations.append(dict(xref='paper', yref='paper', x=X(x), y=Y(y), text=s, showarrow=False,
                            xanchor=xanchor, yanchor='middle', textangle=angle,
                            font=dict(family=family, size=size * FS, color='black', weight=weight)))

def thick_lines(axis_n, values, width=3):
    xr = 'x domain' if axis_n == 1 else 'x%d domain' % axis_n
    yr = 'y' if axis_n == 1 else 'y%d' % axis_n
    for v in values:
        shapes.append(dict(type='line', xref=xr, yref=yr, x0=0, x1=1, y0=v, y1=v,
                           line=dict(color='black', width=width), layer='below'))

def hhmm_text(last=2400):
    return [str(v) if v <= last else '' for v in HHMM_TICKS]

def even_only(labels):
    return [lab if k % 2 == 0 else '' for k, lab in enumerate(labels)]

def xax(n, x0, x1, rng, vals, txt, size=11, standoff=8, gcolor='black', dash='dot', grid=True, px_standoff=None):
    so = px_standoff if px_standoff is not None else round(standoff * SY)
    return dict(domain=[X(x0), X(x1)], anchor='y' if n == 1 else 'y%d' % n, range=rng,
                tickmode='array', tickvals=vals, ticktext=txt, tickangle=0,
                showgrid=grid, gridcolor=gcolor, griddash=dash, gridwidth=1,
                showline=True, linecolor='black', linewidth=1, mirror=True, ticks='', zeroline=False,
                tickfont=dict(family=FONT, size=size * FS, color='black'), ticklabelstandoff=so)

def second_row(base_n, new_n, rng, vals, txt, size, px_standoff):
    # lower row of the two-row time labels (odd labels), drawn on an overlaid axis
    layout['xaxis%d' % new_n] = dict(overlaying='x%d' % base_n, anchor='y%d' % base_n, side='bottom', range=rng,
                                      tickmode='array', tickvals=vals, ticktext=txt, tickangle=0,
                                      showgrid=False, showline=False, zeroline=False, ticks='',
                                      tickfont=dict(family=FONT, size=size * FS, color='black'),
                                      ticklabelstandoff=px_standoff)
    fig.add_trace(go.Scatter(x=[None], y=[None], xaxis='x%d' % new_n, yaxis='y%d' % base_n,
                             showlegend=False, hoverinfo='skip', mode='lines'))

def yax(n, y0, y1, rng, vals, txt, size=11, standoff=10, gcolor='black', dash='dot', grid=True, weight='normal', ticks=''):
    return dict(domain=[Y(y1), Y(y0)], anchor='x' if n == 1 else 'x%d' % n, range=rng,
                tickmode='array', tickvals=vals, ticktext=txt,
                showgrid=grid, gridcolor=gcolor, griddash=dash, gridwidth=1,
                showline=True, linecolor='black', linewidth=1, mirror=True, ticks=ticks, ticklen=5,
                tickcolor='black', zeroline=False,
                tickfont=dict(family=FONT, size=size * FS, color='black', weight=weight), ticklabelstandoff=standoff)

fig = go.Figure()

def line_trace(pairs, n, color='black', width=1, yaxis=None):
    xs, ys = unzip(pairs)
    fig.add_trace(go.Scatter(x=xs, y=ys, mode='lines', line=dict(color=color, width=width),
                             xaxis='x' if n == 1 else 'x%d' % n,
                             yaxis=yaxis or ('y' if n == 1 else 'y%d' % n),
                             showlegend=False, hoverinfo='skip'))

layout = {}
ODD_HHMM = [v for v in HHMM_TICKS if (v // 100) % 2 == 1 and v <= 2400]
ODD_HOURS = [h for h in HOUR_TICKS if h % 2 == 1]

# ---------- Panel 1: temperatures ----------
frame(32, 55, 970, 574)
layout['xaxis'] = xax(1, 92, 963, [-75, 2525], HHMM_TICKS, hhmm_text(), size=11.5, standoff=8, dash='solid')
layout['yaxis'] = yax(1, 101, 523, [8, 30], list(range(8, 31, 2)), [str(v) for v in range(8, 31, 2)],
                      size=11.5, grid=False)
thick_lines(1, list(range(10, 30, 2)))
line_trace(DEW_POINT, 1, width=1)
line_trace(WET_BULB, 1, width=1)
line_trace(AIR_TEMP, 1, width=2)
box(131, 55, 583, 100)
text(357, 78, 'Wokingham AWS 26 Jul 2014', 24)
box(855, 102, 959, 189)
seg(857, 872, 116, width=3); text(881, 116, 'Air temp', 15, xanchor='left')
seg(857, 872, 145, width=1); text(881, 145, 'Wet bulb', 15, xanchor='left')
seg(857, 872, 174, width=1); text(881, 174, 'Dew point', 15, xanchor='left')
text(48, 312, 'Temperature (Deg C)', 12, angle=-90, family=FONT2)
text(527, 557, 'Time (GMT)', 13)

# ---------- Panel 2: RH ----------
frame(34, 588, 968, 1103)
layout['xaxis2'] = xax(2, 105, 954, [-77, 2535], HHMM_TICKS, hhmm_text(), size=12.5, standoff=9)
layout['yaxis2'] = yax(2, 608, 1060, [10, 100], list(range(10, 101, 5)),
                       [str(v) if v % 10 == 0 else '' for v in range(10, 101, 5)], size=11.5, standoff=11)
line_trace(RH, 2, width=2)
box(246, 970, 306, 1007)
seg(251, 266, 989, width=3); text(274, 989, 'RH', 15, xanchor='left')
box(141, 1008, 466, 1058)
text(302, 1033, 'Wokingham AWS 26 Jul 2014', 18)
text(55, 834, 'Relative humidity (%)', 12, angle=-90, family=FONT2)
text(528, 1097, 'Time (GMT)', 13)

# ---------- Panel 3: mixing ratio ----------
frame(39, 1117, 974, 1643)
mr_ticks = [7 + 0.5 * k for k in range(10)]
layout['xaxis3'] = xax(3, 107, 971, [-78, 2511], HHMM_TICKS, hhmm_text(), size=11.5, standoff=10)
layout['yaxis3'] = yax(3, 1126, 1596, [7, 11.5], mr_ticks, ['%g' % v for v in mr_ticks], size=11.5, standoff=12)
line_trace(MIXING, 3, width=1.5)
box(241, 1118, 592, 1148)
text(416, 1133, 'Wokingham AWS 26 Jul 2014', 18)
box(157, 1551, 548, 1592)
seg(159, 173, 1574, width=3)
text(178, 1574, 'Humidity mixing ratio, g water vapour per kg of air', 15.5, xanchor='left')
text(55, 1361, 'Humidity mixing ratio (grammes)', 12, angle=-90, family=FONT2)
text(537, 1632, 'Time (GMT)', 13)

# ---------- Panel 4: pressure ----------
frame(39, 1653, 970, 2193)
R4 = [-76, 2549]
layout['xaxis4'] = xax(4, 133, 963, R4, HHMM_TICKS, even_only(hhmm_text()), size=12, px_standoff=7)
second_row(4, 11, R4, ODD_HHMM, [str(v) for v in ODD_HHMM], 12, 21)
layout['yaxis4'] = yax(4, 1700, 2117, [1014, 1018], [1014, 1015, 1016, 1017, 1018],
                       ['1014', '1015', '1016', '1017', '1018'], size=12, standoff=13)
line_trace(PRESSURE, 4, width=1.5)
box(323, 1658, 481, 1700)
seg(335, 351, 1680, width=3); text(357, 1680, 'MSL Pressure', 15, xanchor='left')
box(510, 1654, 843, 1703)
text(676, 1678, 'Wokingham AWS 26 Jul 2014', 18)
text(75, 1908, 'Pressure (mbar)', 12, angle=-90, family=FONT2)
text(546, 2168, 'Time (GMT)', 13)

# ---------- Panel 5: grass temperature ----------
frame(40, 2212, 969, 2752)
R5 = [-78, 2514]
layout['xaxis5'] = xax(5, 99, 894, R5, HHMM_TICKS, even_only(hhmm_text()), size=12, px_standoff=9)
second_row(5, 12, R5, ODD_HHMM, [str(v) for v in ODD_HHMM], 12, 22)
g_ticks = list(range(-20, 21, 2))
layout['yaxis5'] = yax(5, 2264, 2692, [-20, 20], g_ticks, [str(v) for v in g_ticks], size=12.5,
                       standoff=10, weight='bold', ticks='inside')
d_ticks = list(range(-18, 3))
layout['yaxis10'] = dict(domain=[Y(2692), Y(2264)], anchor='x5', overlaying='y5', side='right', range=[-18, 2],
                         tickmode='array', tickvals=d_ticks, ticktext=[str(v) for v in d_ticks],
                         showgrid=False, showline=True, linecolor='black', zeroline=False, ticks='inside',
                         ticklen=5, tickcolor='black', tickfont=dict(family=FONT, size=12 * FS, color='black'),
                         ticklabelstandoff=4)
thick_lines(5, [16], width=3)
thick_lines(5, [0], width=1)
line_trace(GRASS_DIFF, 5, color='#808080', width=1, yaxis='y10')
line_trace(GRASS_TEMP, 5, width=2.5)
box(321, 2213, 661, 2258)
text(491, 2236, 'Wokingham AWS 26 Jul 2014', 18)
box(419, 2603, 599, 2683)
seg(436, 449, 2629, width=3); text(457, 2629, 'Grass level temp', 15, xanchor='left')
seg(436, 449, 2657, color='#808080', width=1); text(457, 2657, 'Grass-air diff', 15, xanchor='left')
text(47, 2478, 'Grass Temp (Deg C)', 12, angle=-90, family=FONT2)
text(942, 2478, 'Grass Temp minus Air Temp (Deg C)', 12, angle=-90, family=FONT2)
text(494, 2745, 'Time GMT', 13)

# ---------- Panel 6: rainfall ----------
frame(40, 2773, 968, 3306)
R6 = [-74, 2524]
layout['xaxis6'] = xax(6, 123, 963, R6, HHMM_TICKS, even_only(hhmm_text()), size=12, px_standoff=9)
second_row(6, 13, R6, ODD_HHMM, [str(v) for v in ODD_HHMM], 12, 22)
layout['yaxis6'] = yax(6, 2838, 3246, [0, 10], list(range(0, 11)),
                       [str(v) if v % 2 == 0 else '' for v in range(0, 11)], size=12, standoff=11)
thick_lines(6, [2, 4, 6, 8])
line_trace(list(zip(RAIN_TIME, RAIN_MM)), 6, width=3)
white(135, 2832, 448, 2857)
text(292, 2808, 'Wokingham AWS 26 Jul 2014', 18)
text(292, 2835, 'Rainfall (TBR)', 18)
text(677, 2814, 'Corrected to equivalent of the standard gauge', 16.5)
text(79, 3042, 'Rainfall accumulation (mm)', 12, angle=-90, family=FONT2)
text(541, 3300, 'Time (GMT)', 13)

# ---------- Panel 7: sunshine ----------
frame(28, 3334, 974, 3850)
layout['xaxis7'] = xax(7, 108, 966, [2.39, 22.61], SUN_HOURS, [str(v) for v in SUN_HOURS], size=17.5, standoff=10)
layout['yaxis7'] = yax(7, 3344, 3798, [0, 151], [0, 50, 100], ['0', '', '100'], size=11.5, standoff=6,
                       gcolor='#a0a0a0', ticks='outside')
line_trace(SUNSHINE, 7, width=2)
white(329, 3338, 699, 3409)
white(346, 3409, 678, 3487)
text(512, 3355, 'Wokingham sunshine', 17)
text(512, 3386, '26-Jul', 25)
text(512, 3427, '2014', 15, weight='bold')
text(512, 3457, 'Total 9.31 Hrs', 25)
text(55, 3571, 'Sunshine (per cent per minute)', 12, angle=-90, family=FONT2)
text(535, 3843, 'Time (GMT)', 13)

# ---------- Panel 8: wind direction ----------
frame(37, 3883, 975, 4417)
layout['xaxis8'] = xax(8, 123, 957, [-0.70, 24.86], HOUR_TICKS, [str(v) for v in HOUR_TICKS], size=13.5,
                       standoff=8, dash='solid')
dir_ticks = list(range(0, 361, 30))
layout['yaxis8'] = yax(8, 3902, 4368, [0, 360], dir_ticks, [str(v) for v in dir_ticks], size=11.5, standoff=14,
                       dash='solid')
layout['yaxis8']['minor'] = dict(dtick=10, showgrid=True, gridcolor='black', gridwidth=1, griddash='solid')
thick_lines(8, list(range(30, 360, 30)))
dx, dy = unzip(WIND_DIR)
fig.add_trace(go.Scatter(x=dx, y=dy, mode='markers', xaxis='x8', yaxis='y8', showlegend=False, hoverinfo='skip',
                         marker=dict(symbol='diamond', size=8, color='black', line=dict(width=0))))
white(359, 4061, 652, 4115)
text(506, 4077, 'Wokingham,  26 July 2014', 16, weight='bold')
text(506, 4098, '5 minute mean wind direction', 13.5)
text(69, 4135, 'Direction, degrees true', 12, angle=-90, family=FONT2)
text(537, 4404, 'Time (GMT)', 13)

# ---------- Panel 9: wind speed ----------
frame(39, 4436, 977, 4952)
R9 = [-0.69, 25.39]
hour_lbl = ['%02d:00' % h if h < 24 else '' for h in HOUR_TICKS]
layout['xaxis9'] = xax(9, 98, 971, R9, HOUR_TICKS, even_only(hour_lbl), size=12, px_standoff=9)
second_row(9, 14, R9, ODD_HOURS, ['%02d:00' % h for h in ODD_HOURS], 12, 21)
sp_ticks = list(range(0, 51, 5))
layout['yaxis9'] = yax(9, 4480, 4878, [0, 50], sp_ticks, [str(v) if v % 10 == 0 else '' for v in sp_ticks],
                       size=12, standoff=8, ticks='outside')
gx, gy = unzip(WIND_GUST)
fig.add_trace(go.Scatter(x=gx, y=gy, mode='lines', xaxis='x9', yaxis='y9', showlegend=False, hoverinfo='skip',
                         line=dict(color='#4a4a4a', width=1)))
mx, my = unzip(WIND_MEAN)
fig.add_trace(go.Scatter(x=mx, y=my, mode='lines', xaxis='x9', yaxis='y9', showlegend=False, hoverinfo='skip',
                         line=dict(color='black', width=2)))
tx, ty = unzip(WIND_X10)
fig.add_trace(go.Scatter(x=tx, y=ty, mode='markers', xaxis='x9', yaxis='y9', showlegend=False, hoverinfo='skip',
                         marker=dict(symbol='diamond', size=8, color='#c8c8c8', line=dict(color='#3a3a3a', width=1))))
white(100, 4476, 444, 4483)
text(274, 4459, 'Wokingham,  26 July 2014', 18)
text(588, 4447, 'Wind speed, 10 min mean / max gust', 13.5)
text(588, 4467, 'Speeds below 4 kt shown at x10 scale', 13.5)
box(740, 4442, 965, 4468)
seg(774, 785, 4456, width=3)
text(793, 4455, 'Speed x 1', 10.5, xanchor='left')
cx, cy, r = 865, 4455, 4.5
shapes.append(dict(type='path', xref='paper', yref='paper',
                   path='M %f,%f L %f,%f L %f,%f L %f,%f Z' % (X(cx - r), Y(cy), X(cx), Y(cy - r), X(cx + r), Y(cy), X(cx), Y(cy + r)),
                   fillcolor='#c8c8c8', line=dict(color='#3a3a3a', width=1), layer='above'))
text(878, 4455, 'Speed / 10', 10.5, xanchor='left')
text(53, 4679, 'Speed (knots)', 12, angle=-90, family=FONT2)
text(533, 4932, 'Time (GMT)', 13)

fig.update_layout(width=FW, height=FH, margin=dict(l=0, r=0, t=0, b=0, pad=0),
                  paper_bgcolor='white', plot_bgcolor='white', showlegend=False,
                  shapes=shapes, annotations=annotations, **layout)
fig.write_html("out.html")
